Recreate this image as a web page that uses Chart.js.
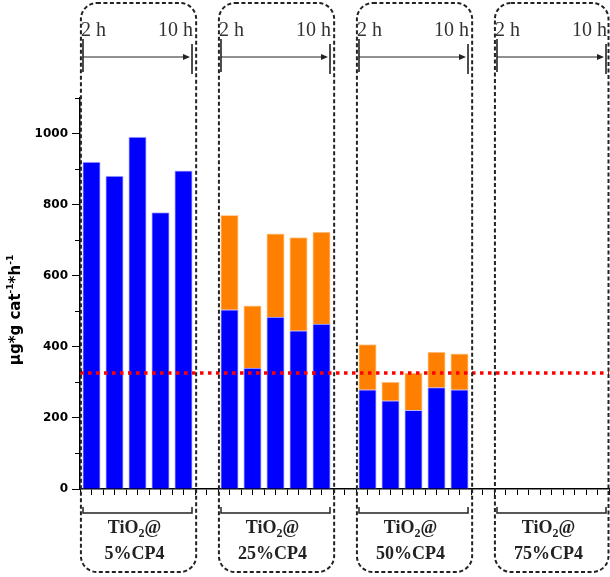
<!DOCTYPE html>
<html>
<head>
<meta charset="utf-8">
<script src="https://cdn.jsdelivr.net/npm/chart.js@4"></script>
<style>
  html, body { margin: 0; padding: 0; background: #fff; }
  #wrap { width: 610px; height: 577px; }
</style>
</head>
<body>
<div id="wrap"><canvas id="chart" width="610" height="577"></canvas></div>
<script>
// Dữ liệu
const groupNames = ['5%CP4', '25%CP4', '50%CP4', '75%CP4'];
const timeLabels = ['2 h', '10 h'];
const blueValues = [
    [920, 880, 990, 778, 895],
    [504, 340, 484, 445, 464],
    [279, 248, 221, 285, 279],
    []
];
const orangeValues = [
    [],
    [266, 175, 234, 262, 259],
    [127, 53, 105, 100, 101],
    []
];
const refLine = 326;
const barsPerGroup = 5;
const groupStep = 6;
const yMax = 1100;

const blueColor = '#0000ff';
const orangeColor = '#ff8000';
const ink = '#222';

// vị trí của từng cột: nhóm * 6 + thứ tự
function toPoints(groups) {
    const pts = [];
    groups.forEach((vals, g) => {
        vals.forEach((v, i) => pts.push({ x: g * groupStep + i, y: v }));
    });
    return pts;
}
const lastIndex = (groupNames.length - 1) * groupStep + barsPerGroup - 1;

// plugin vẽ khung nét đứt, mũi tên thời gian, nhãn nhóm và tiêu đề trục y
const decorPlugin = {
    id: 'decor',
    afterDatasetsDraw(chart) {
        const ctx = chart.ctx;
        const xs = chart.scales.x;
        const ys = chart.scales.y;
        const area = chart.chartArea;

        // vạch phụ trục y
        ctx.save();
        ctx.strokeStyle = '#000';
        ctx.lineWidth = 1;
        for (let v = 100; v <= yMax; v += 200) {
            const py = Math.round(ys.getPixelForValue(v)) + 0.5;
            ctx.beginPath();
            ctx.moveTo(area.left - 5, py);
            ctx.lineTo(area.left, py);
            ctx.stroke();
        }
        ctx.restore();

        groupNames.forEach((name, g) => {
            const start = g * groupStep;
            const end = start + barsPerGroup - 1;
            const boxL = xs.getPixelForValue(start - 0.46);
            const boxR = Math.min(xs.getPixelForValue(end + 0.55), chart.width - 1.5);
            const barL = xs.getPixelForValue(start - 0.37);
            const barR = xs.getPixelForValue(end + 0.37);
            const mid = xs.getPixelForValue(start + 2) - 3;

            // khung bo tròn nét đứt
            ctx.save();
            ctx.strokeStyle = ink;
            ctx.lineWidth = 2;
            ctx.setLineDash([4, 2.5]);
            ctx.beginPath();
            ctx.roundRect(boxL, 3, boxR - boxL, 569, 16);
            ctx.stroke();
            ctx.restore();

            // mũi tên 2 h -> 10 h
            ctx.save();
            ctx.strokeStyle = ink;
            ctx.fillStyle = ink;
            ctx.lineWidth = 1.6;
            ctx.beginPath();
            ctx.moveTo(barL, 39); ctx.lineTo(barL, 72);
            ctx.moveTo(barR, 44); ctx.lineTo(barR, 74);
            ctx.stroke();
            ctx.lineWidth = 1.2;
            ctx.beginPath();
            ctx.moveTo(barL, 57); ctx.lineTo(barR - 6, 57);
            ctx.stroke();
            ctx.beginPath();
            ctx.moveTo(barR - 2, 57);
            ctx.lineTo(barR - 9, 54);
            ctx.lineTo(barR - 9, 60);
            ctx.closePath();
            ctx.fill();

            ctx.font = '20px "Liberation Serif", serif';
            ctx.fillStyle = '#333';
            ctx.textBaseline = 'alphabetic';
            ctx.textAlign = 'left';
            ctx.fillText(timeLabels[0], barL - 2, 36);
            ctx.textAlign = 'right';
            ctx.fillText(timeLabels[1], barR + 1, 36);
            ctx.restore();

            // ngoặc dưới trục x
            ctx.save();
            ctx.strokeStyle = ink;
            ctx.lineWidth = 1.5;
            ctx.beginPath();
            ctx.moveTo(barL, 507); ctx.lineTo(barL, 513);
            ctx.lineTo(barR, 513); ctx.lineTo(barR, 507);
            ctx.stroke();

            // nhãn nhóm: TiO₂@ / x%CP4
            ctx.fillStyle = ink;
            ctx.textBaseline = 'alphabetic';
            ctx.textAlign = 'left';
            const big = 'bold 18px "Liberation Serif", serif';
            const small = 'bold 12px "Liberation Serif", serif';
            ctx.font = big;
            const w1 = ctx.measureText('TiO').width;
            const w3 = ctx.measureText('@').width;
            ctx.font = small;
            const w2 = ctx.measureText('2').width;
            let x0 = mid - (w1 + w2 + w3) / 2;
            ctx.font = big;
            ctx.fillText('TiO', x0, 533);
            ctx.font = small;
            ctx.fillText('2', x0 + w1, 537);
            ctx.font = big;
            ctx.fillText('@', x0 + w1 + w2, 533);
            ctx.textAlign = 'center';
            ctx.fillText(name, mid, 559);
            ctx.restore();
        });

        // tiêu đề trục y: µg*g cat⁻¹*h⁻¹
        ctx.save();
        ctx.translate(20, 310);
        ctx.rotate(-Math.PI / 2);
        ctx.fillStyle = '#000';
        ctx.textBaseline = 'alphabetic';
        ctx.textAlign = 'left';
        const parts = [
            ['µg*g cat', 'bold 15px "DejaVu Sans", sans-serif', 0],
            ['-1', 'bold 9px "DejaVu Sans", sans-serif', -7],
            ['*h', 'bold 15px "DejaVu Sans", sans-serif', 0],
            ['-1', 'bold 9px "DejaVu Sans", sans-serif', -7]
        ];
        let total = 0;
        parts.forEach(p => { ctx.font = p[1]; total += ctx.measureText(p[0]).width; });
        let px = -total / 2;
        parts.forEach(p => {
            ctx.font = p[1];
            ctx.fillText(p[0], px, p[2]);
            px += ctx.measureText(p[0]).width;
        });
        ctx.restore();
    }
};

const ctx = document.getElementById('chart').getContext('2d');
new Chart(ctx, {
    data: {
        datasets: [
            {
                type: 'line',
                data: [{ x: -0.5, y: refLine }, { x: lastIndex + 0.5, y: refLine }],
                borderColor: '#ff0000',
                borderWidth: 3.5,
                borderDash: [3.5, 4.5],
                pointRadius: 0,
                fill: false,
                order: 0
            },
            {
                type: 'bar',
                data: toPoints(blueValues),
                backgroundColor: blueColor,
                borderColor: '#b8b8ff',
                borderWidth: 1,
                barThickness: 17.5,
                order: 1
            },
            {
                type: 'bar',
                data: toPoints(orangeValues),
                backgroundColor: orangeColor,
                borderColor: '#ffd0a0',
                borderWidth: 1,
                barThickness: 17.5,
                order: 1
            }
        ]
    },
    options: {
        responsive: false,
        animation: false,
        layout: { padding: { top: 98, right: 1, bottom: 82, left: 0 } },
        plugins: {
            legend: { display: false },
            tooltip: { enabled: false }
        },
        scales: {
            x: {
                type: 'linear',
                stacked: true,
                offset: false,
                min: -0.5,
                max: lastIndex + 0.5,
                ticks: { display: false, stepSize: 0.5, autoSkip: false },
                grid: { offset: false, drawOnChartArea: false, tickLength: 6, color: '#000', lineWidth: 1 },
                border: { color: '#000', width: 1.5 }
            },
            y: {
                stacked: true,
                min: 0,
                max: yMax,
                afterFit: function(scale) { scale.width = 80; },
                ticks: {
                    stepSize: 100,
                    padding: 4,
                    color: '#000',
                    font: { family: '"DejaVu Sans", sans-serif', weight: 'bold', size: 12 },
                    callback: function(value) { return value % 200 === 0 ? value : ''; }
                },
                grid: {
                    drawOnChartArea: false,
                    tickLength: 8,
                    lineWidth: 1,
                    tickColor: function(c) { return c.tick && c.tick.value % 200 === 0 ? '#000' : 'rgba(0,0,0,0)'; }
                },
                border: { color: '#000', width: 1.5 }
            }
        }
    },
    plugins: [decorPlugin]
});
</script>
</body>
</html>
